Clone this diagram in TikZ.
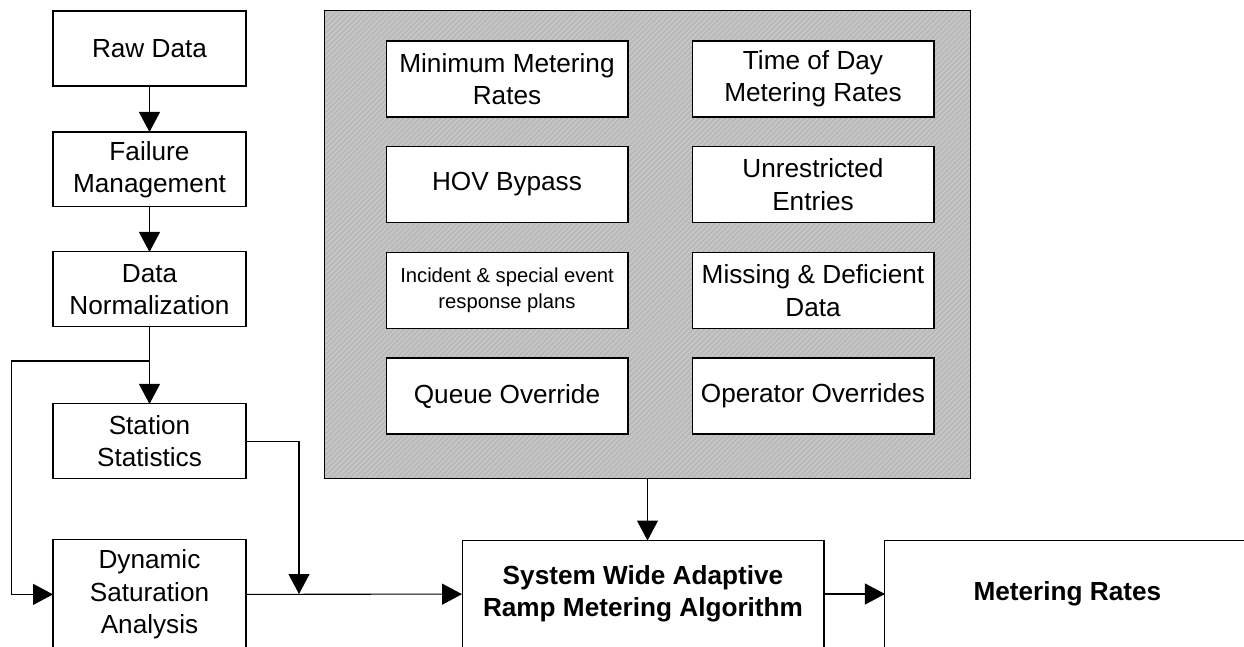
\documentclass[tikz,border=0pt]{standalone}
\usepackage{fontspec}
\setmainfont{Liberation Sans}
\usetikzlibrary{positioning,arrows.meta,patterns}

\begin{document}
\begin{tikzpicture}[x=0.02cm,y=-0.02cm]
	\tikzstyle{box} = [draw, fill=white, line width=0.6pt, inner sep=0pt, outer sep=0pt, minimum width=3.86cm, minimum height=1.5cm, align=center, font=\fontsize{14.9}{18.4}\selectfont]
	\tikzstyle{opt} = [box, minimum width=4.84cm, minimum height=1.52cm]
	\tikzstyle{flow} = [-{Triangle[length=0.4cm,width=0.42cm]}, line width=0.6pt]
	\useasboundingbox (0,0) rectangle (1244,646);
	% processing chain on the left
	\node[box](raw) at (149.5,48.5){Raw Data};
	\node[box, below=0.92cm of raw](fail){Failure\\Management};
	\node[box, below=0.9cm of fail](norm){Data\\Normalization};
	\node[box, below=1.54cm of norm](stat){Station\\Statistics};
	\node[box, below=1.22cm of stat, minimum height=2.18cm](dyn){Dynamic\\Saturation\\Analysis};
	% grey panel of options
	\node[draw, line width=0.6pt, minimum width=12.94cm, minimum height=9.38cm, inner sep=0pt, outer sep=0pt,
		preaction={fill=black!27}, pattern=north east lines, pattern color=black!18](panel) at (647.5,244.5){};
	\node[opt](mmr) at (507,79){Minimum Metering\\Rates};
	\node[opt](tod) at (813,79){Time of Day\\Metering Rates};
	\node[opt](hov) at (507,184.5){HOV Bypass};
	\node[opt](ure) at (813,184.5){Unrestricted\\Entries};
	\node[opt, font=\fontsize{11.5}{15}\selectfont](isp) at (507,290.5){Incident \& special event\\response plans};
	\node[opt](mdd) at (813,290.5){Missing \& Deficient\\Data};
	\node[opt](qo) at (507,396){Queue Override};
	\node[opt](oo) at (813,396){Operator Overrides};
	% algorithm and output
	\node[box, minimum width=7.24cm, minimum height=2.14cm, font=\fontsize{14.9}{18.4}\selectfont\bfseries](swarm) at (643,594){System Wide Adaptive\\Ramp Metering Algorithm};
	\node[box, minimum width=7.3cm, minimum height=2.14cm, font=\fontsize{14.9}{18.4}\selectfont\bfseries, right=1.22cm of swarm](meter){Metering Rates};
	\coordinate (split) at (149.5,361);
	\coordinate (join) at (299,594);
	\draw[flow](raw) -- (fail);
	\draw[flow](fail) -- (norm);
	\draw[flow](norm) -- (stat);
	\draw[flow](split) -| ([xshift=-0.84cm]dyn.west) -- (dyn.west);
	\draw[flow](stat.east) -| (join);
	\draw[flow](dyn) -- (swarm);
	\draw[flow](panel.south) -- (panel.south |- swarm.north);
	\draw[flow](swarm) -- (meter);
\end{tikzpicture}
\end{document}
